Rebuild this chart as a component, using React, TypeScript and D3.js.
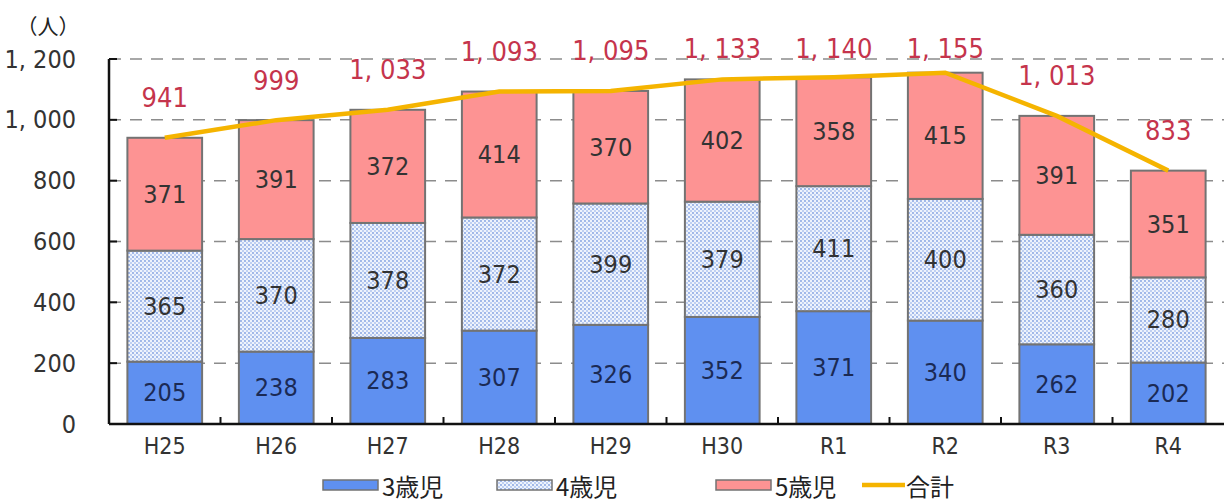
import React, { useEffect, useRef } from 'react';
import * as d3 from 'd3';

const categories = ['H25', 'H26', 'H27', 'H28', 'H29', 'H30', 'R1', 'R2', 'R3', 'R4'];
const age3 = [205, 238, 283, 307, 326, 352, 371, 340, 262, 202];
const age4 = [365, 370, 378, 372, 399, 379, 411, 400, 360, 280];
const age5 = [371, 391, 372, 414, 370, 402, 358, 415, 391, 351];
const totals = [941, 999, 1033, 1093, 1095, 1133, 1140, 1155, 1013, 833];
const yTicks = [0, 200, 400, 600, 800, 1000, 1200];
const seriesNames = ['3歳児', '4歳児', '5歳児', '合計'];

const FONT = "'DejaVu Sans Condensed', 'DejaVu Sans', sans-serif";

const fmt = (v: number) => d3.format(',')(v).replace(',', ', ');

const App: React.FC = () => {
  const svgRef = useRef<SVGSVGElement>(null);

  useEffect(() => {
    if (!svgRef.current) return;
    const svg = d3.select(svgRef.current);
    svg.selectAll('*').remove();

    const width = 1232;
    const height = 502;
    const margin = { left: 109, right: 8, top: 59, bottom: 78 };

    const x = d3
      .scaleBand<string>()
      .domain(categories)
      .range([margin.left, width - margin.right])
      .paddingInner(0.33)
      .paddingOuter(0.165);
    const y = d3
      .scaleLinear()
      .domain([0, 1200])
      .range([height - margin.bottom, margin.top]);

    const txt = (sel: d3.Selection<any, any, any, any>, size: number) =>
      sel
        .attr('font-family', FONT)
        .attr('font-stretch', 'condensed')
        .style('font-stretch', 'condensed')
        .attr('font-size', size);

    // dotted pattern for 4歳児
    const defs = svg.append('defs');
    const pat = defs
      .append('pattern')
      .attr('id', 'dots')
      .attr('width', 4)
      .attr('height', 4)
      .attr('patternUnits', 'userSpaceOnUse');
    pat.append('rect').attr('width', 4).attr('height', 4).attr('fill', '#eef3fc');
    pat.append('circle').attr('cx', 1).attr('cy', 1).attr('r', 0.9).attr('fill', '#7d9de0');
    pat.append('circle').attr('cx', 3).attr('cy', 3).attr('r', 0.9).attr('fill', '#a9bfee');

    // gridlines
    svg
      .append('g')
      .selectAll('line')
      .data(yTicks.filter(t => t > 0))
      .join('line')
      .attr('x1', margin.left)
      .attr('x2', width - margin.right)
      .attr('y1', d => y(d))
      .attr('y2', d => y(d))
      .attr('stroke', '#8c8c8c')
      .attr('stroke-width', 1.5)
      .attr('stroke-dasharray', '12,9');

    // stacked bars
    const rows = categories.map((c, i) => ({ cat: c, a3: age3[i], a4: age4[i], a5: age5[i] }));
    const stack = d3.stack<any>().keys(['a3', 'a4', 'a5'])(rows);
    const fills = ['#5f90f0', 'url(#dots)', '#fd9393'];
    const labelColors = ['#1b2a55', '#333333', '#333333'];

    stack.forEach((layer, li) => {
      const g = svg.append('g');
      g.selectAll('rect')
        .data(layer)
        .join('rect')
        .attr('x', d => x(d.data.cat)!)
        .attr('width', x.bandwidth())
        .attr('y', d => y(d[1]))
        .attr('height', d => y(d[0]) - y(d[1]))
        .attr('fill', fills[li])
        .attr('stroke', '#737373')
        .attr('stroke-width', 2);
      txt(
        g.selectAll('text')
          .data(layer)
          .join('text')
          .attr('x', d => x(d.data.cat)! + x.bandwidth() / 2)
          .attr('y', d => (y(d[0]) + y(d[1])) / 2)
          .attr('text-anchor', 'middle')
          .attr('dominant-baseline', 'central')
          .attr('fill', labelColors[li])
          .text(d => String(d[1] - d[0])),
        25
      );
    });

    // axes
    svg
      .append('line')
      .attr('x1', margin.left)
      .attr('x2', margin.left)
      .attr('y1', y(1200))
      .attr('y2', y(0))
      .attr('stroke', '#111')
      .attr('stroke-width', 2.5);
    svg
      .append('line')
      .attr('x1', margin.left)
      .attr('x2', width - margin.right)
      .attr('y1', y(0))
      .attr('y2', y(0))
      .attr('stroke', '#111')
      .attr('stroke-width', 2.5);

    // y ticks
    svg
      .append('g')
      .selectAll('line')
      .data(yTicks)
      .join('line')
      .attr('x1', margin.left)
      .attr('x2', margin.left + 8)
      .attr('y1', d => y(d))
      .attr('y2', d => y(d))
      .attr('stroke', '#111')
      .attr('stroke-width', 2);
    txt(
      svg
        .append('g')
        .selectAll('text')
        .data(yTicks)
        .join('text')
        .attr('x', 76)
        .attr('y', d => y(d))
        .attr('text-anchor', 'end')
        .attr('dominant-baseline', 'central')
        .attr('fill', '#333')
        .text(d => fmt(d)),
      25
    );

    // x ticks at band boundaries
    const step = x.step();
    svg
      .append('g')
      .selectAll('line')
      .data(categories.slice(1))
      .join('line')
      .attr('x1', d => x(d)! - (step - x.bandwidth()) / 2)
      .attr('x2', d => x(d)! - (step - x.bandwidth()) / 2)
      .attr('y1', y(0))
      .attr('y2', y(0) - 7)
      .attr('stroke', '#111')
      .attr('stroke-width', 2);
    txt(
      svg
        .append('g')
        .selectAll('text')
        .data(categories)
        .join('text')
        .attr('x', d => x(d)! + x.bandwidth() / 2)
        .attr('y', y(0) + 22)
        .attr('text-anchor', 'middle')
        .attr('dominant-baseline', 'central')
        .attr('fill', '#333')
        .text(d => d),
      23
    );

    svg
      .append('text')
      .attr('x', 48)
      .attr('y', 25)
      .attr('text-anchor', 'middle')
      .attr('dominant-baseline', 'central')
      .attr('font-family', "'Noto Sans CJK JP', sans-serif")
      .attr('font-size', 21)
      .attr('fill', '#222')
      .text('（人）');

    // total line
    const line = d3
      .line<number>()
      .x((_d, i) => x(categories[i])! + x.bandwidth() / 2)
      .y(d => y(d));
    svg
      .append('path')
      .datum(totals)
      .attr('d', line)
      .attr('fill', 'none')
      .attr('stroke', '#f5b400')
      .attr('stroke-width', 4.5);

    txt(
      svg
        .append('g')
        .selectAll('text')
        .data(totals)
        .join('text')
        .attr('x', (_d, i) => x(categories[i])! + x.bandwidth() / 2)
        .attr('y', d => Math.max(48, y(d) - 40))
        .attr('text-anchor', 'middle')
        .attr('dominant-baseline', 'central')
        .attr('fill', '#c5344c')
        .text(d => fmt(d)),
      27
    );

    // legend
    const legendY = 485;
    const legendItems = [
      { x: 323, kind: 'rect', fill: fills[0] },
      { x: 497, kind: 'rect', fill: fills[1] },
      { x: 716, kind: 'rect', fill: fills[2] },
      { x: 862, kind: 'line', fill: '#f5b400' },
    ];
    legendItems.forEach((it, i) => {
      if (it.kind === 'rect') {
        svg
          .append('rect')
          .attr('x', it.x)
          .attr('y', legendY - 5)
          .attr('width', 55)
          .attr('height', 10)
          .attr('fill', it.fill)
          .attr('stroke', '#737373')
          .attr('stroke-width', 1.5);
      } else {
        svg
          .append('line')
          .attr('x1', it.x)
          .attr('x2', it.x + 43)
          .attr('y1', legendY)
          .attr('y2', legendY)
          .attr('stroke', it.fill)
          .attr('stroke-width', 4.5);
      }
      svg
        .append('text')
        .attr('x', it.x + (it.kind === 'rect' ? 59 : 44))
        .attr('y', legendY)
        .attr('dominant-baseline', 'central')
        .attr('font-family', "'Noto Sans CJK JP', sans-serif")
        .attr('font-size', 24)
        .attr('fill', '#222')
        .text(seriesNames[i]);
    });
  }, []);

  return (
    <svg
      ref={svgRef}
      width={1232}
      height={502}
      style={{ display: 'block', position: 'absolute', left: 0, top: 0, background: '#fff' }}
    />
  );
};

export default App;
